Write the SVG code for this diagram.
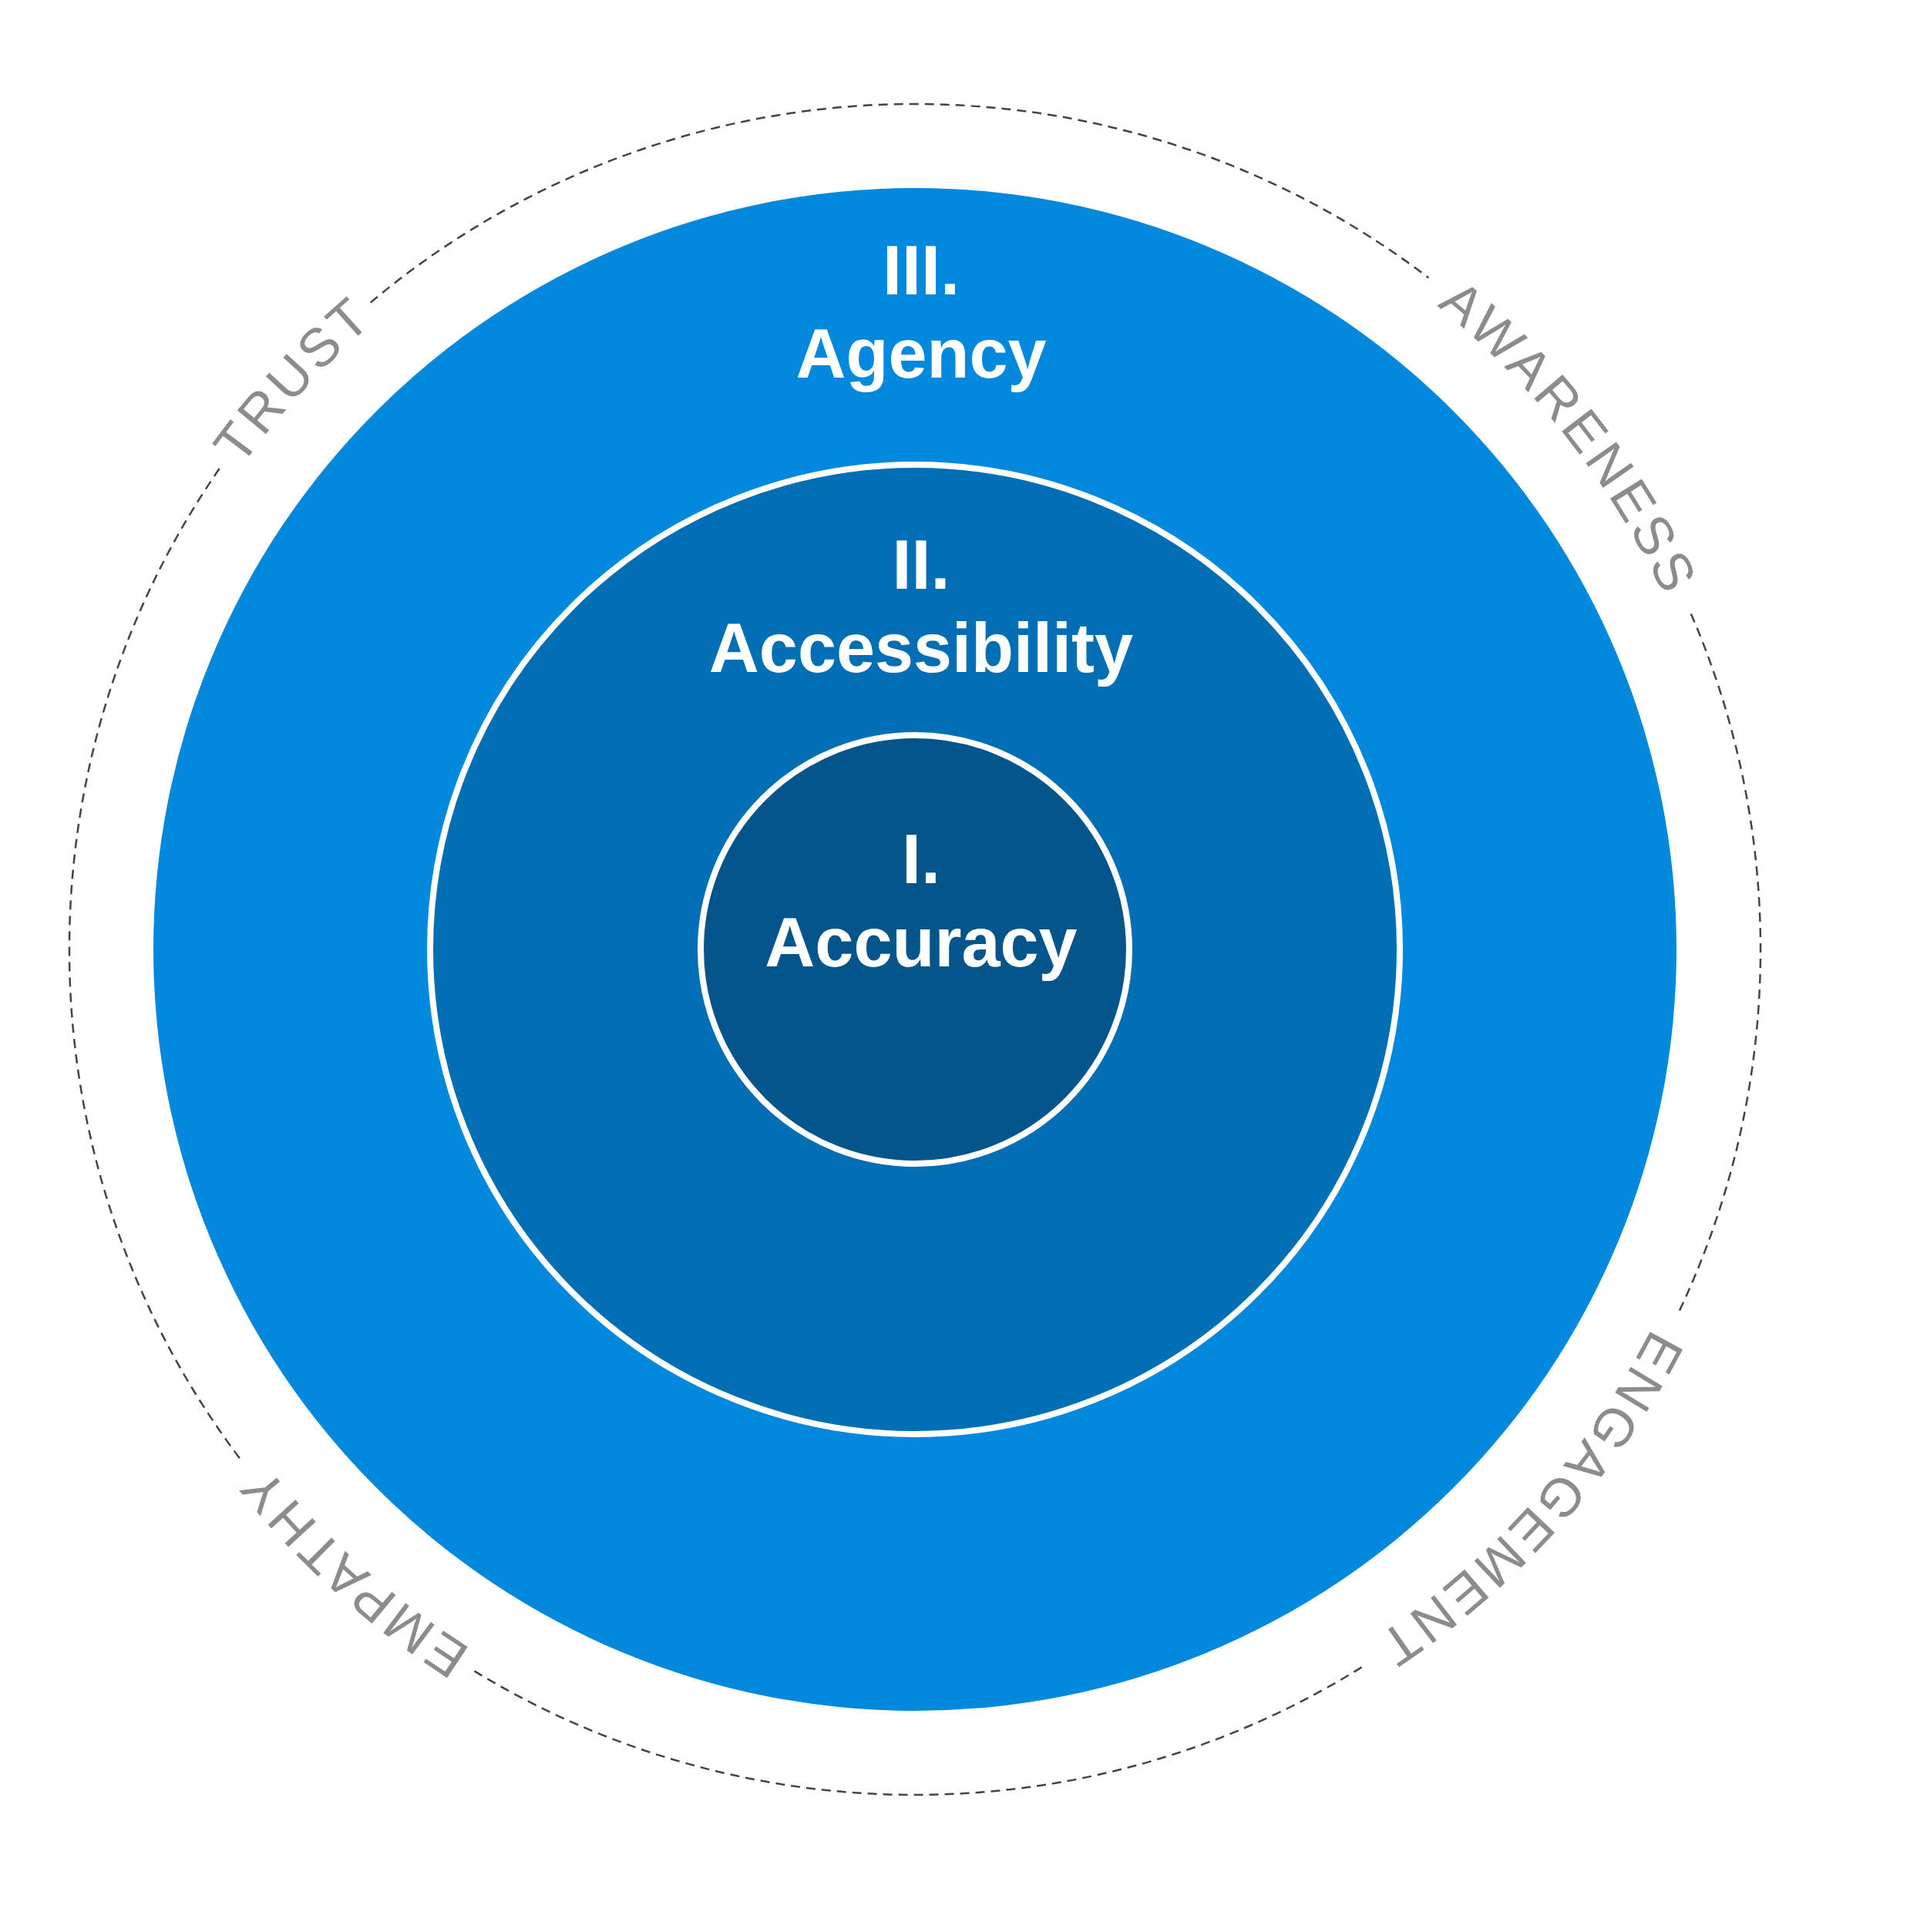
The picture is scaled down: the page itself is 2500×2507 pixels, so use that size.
<svg xmlns="http://www.w3.org/2000/svg" xmlns:xlink="http://www.w3.org/1999/xlink" width="2500" height="2507" viewBox="0 0 2500 2507">
<style>
.ring{stroke:#ffffff;stroke-width:8}
.title{font-family:"Liberation Sans",Arial,sans-serif;font-weight:bold;font-size:90px;fill:#ffffff;text-anchor:middle}
.arc{fill:none;stroke:#444444;stroke-width:2.5;stroke-dasharray:12 8}
.curve{font-family:"Liberation Sans",Arial,sans-serif;font-size:70px;fill:#8c8c8c;letter-spacing:5px;text-anchor:middle}
</style>
<defs>
<path id="ringPath" d="M 112 1232 A 1075 1075 0 1 1 2262 1232 A 1075 1075 0 1 1 112 1232"/>
</defs>
<rect width="2500" height="2507" fill="#ffffff"/>
<g id="connectors">
<path class="arc" d="M 480.7 392.6 A 1097 1097 0 0 1 1853.3 360.5"/>
<path class="arc" d="M 2193.8 796.4 A 1097 1097 0 0 1 2177.2 1704.3"/>
<path class="arc" d="M 1766.6 2163.4 A 1097 1097 0 0 1 615.5 2168.4"/>
<path class="arc" d="M 310.9 1892.2 A 1097 1097 0 0 1 287.2 604.4"/>
</g>
<g id="agency">
<circle cx="1187" cy="1232" r="988" fill="#0288dc"/>
<text class="title" x="1195" y="382">III.</text>
<text class="title" x="1195" y="490">Agency</text>
</g>
<g id="accessibility">
<circle class="ring" cx="1187" cy="1232" r="629" fill="#026fb4"/>
<text class="title" x="1195" y="764">II.</text>
<text class="title" x="1195" y="872">Accessibility</text>
</g>
<g id="accuracy">
<circle class="ring" cx="1187" cy="1232" r="278" fill="#03558c"/>
<text class="title" x="1195" y="1146">I.</text>
<text class="title" x="1195" y="1254">Accuracy</text>
</g>
<g id="trust"><text class="curve"><textPath href="#ringPath" xlink:href="#ringPath" startOffset="797">TRUST</textPath></text></g>
<g id="awareness"><text class="curve"><textPath href="#ringPath" xlink:href="#ringPath" startOffset="2664">AWARENESS</textPath></text></g>
<g id="engagement"><text class="curve"><textPath href="#ringPath" xlink:href="#ringPath" startOffset="4161">ENGAGEMENT</textPath></text></g>
<g id="empathy"><text class="curve"><textPath href="#ringPath" xlink:href="#ringPath" startOffset="5854">EMPATHY</textPath></text></g>
</svg>
